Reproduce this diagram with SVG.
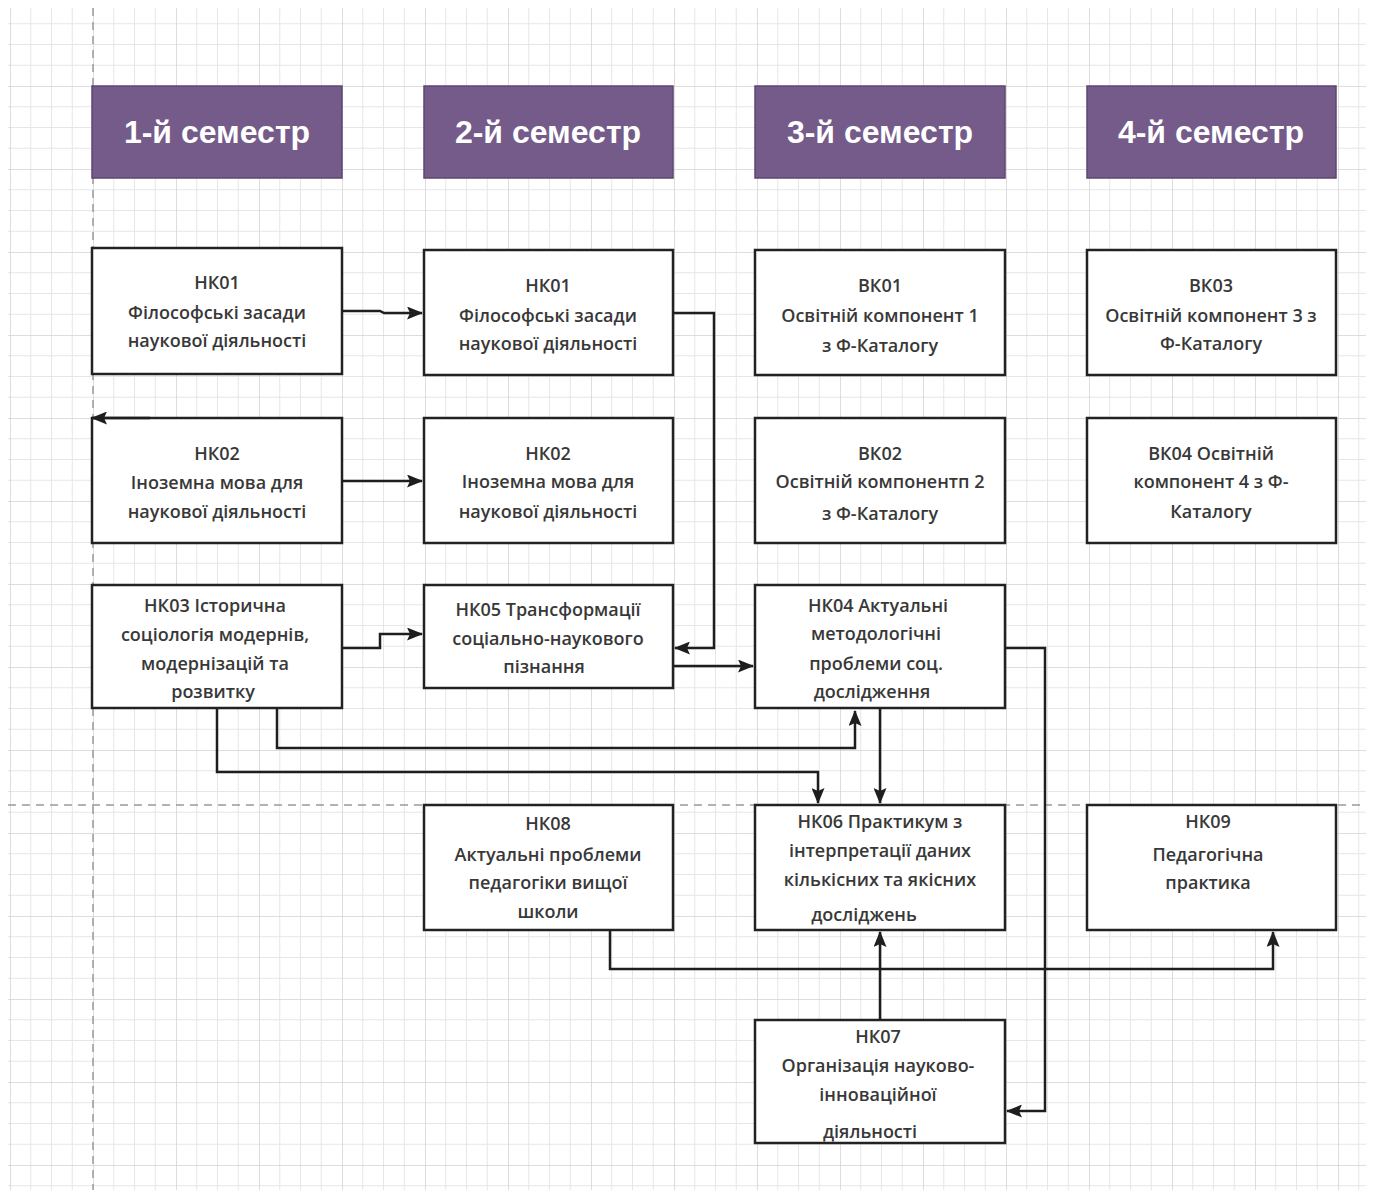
<svg xmlns="http://www.w3.org/2000/svg" width="1373" height="1197" viewBox="0 0 1373 1197">
<style>
.hdr{fill:#745b89;stroke:#5d4672;stroke-width:1.5}
.hdrt{font-family:"Liberation Sans",Arial,sans-serif;font-weight:bold;font-size:32px;fill:#ffffff;text-anchor:middle}
.box{fill:#ffffff;stroke:#222222;stroke-width:2.5}
.t{font-family:"Open Sans","DejaVu Sans",sans-serif;font-weight:600;font-size:18px;fill:#383838;text-anchor:middle}
.c{fill:none;stroke:#1e1e1e;stroke-width:2.5;marker-end:url(#ah)}
.dash{stroke:#9a9a9a;stroke-width:1.5;stroke-dasharray:8 6}
</style>
<defs>
<pattern id="grid" patternUnits="userSpaceOnUse" x="10" y="3" width="83" height="83">
<path d="M20.75 0V83M41.5 0V83M62.25 0V83M0 20.75H83M0 41.5H83M0 62.25H83" stroke="#e6e6e6" stroke-width="1" fill="none"/>
<path d="M0 0V83M0 0H83" stroke="#d2d2d2" stroke-width="1.5" fill="none"/>
</pattern>
<marker id="ah" viewBox="0 0 16 13" refX="15" refY="6.5" markerWidth="16" markerHeight="13" markerUnits="userSpaceOnUse" orient="auto">
<path d="M0 0L16 6.5L0 13L3 6.5Z" fill="#1e1e1e"/>
</marker>
</defs>
<rect width="1373" height="1197" fill="#ffffff"/>
<rect x="8" y="8" width="1358" height="1182" fill="url(#grid)"/>
<line class="dash" x1="93" y1="8" x2="93" y2="1190"/>
<line class="dash" x1="8" y1="805" x2="1366" y2="805"/>

<g id="h1"><rect class="hdr" x="92" y="86" width="250" height="92"/><text class="hdrt" x="217" y="143">1-й семестр</text></g>
<g id="h2"><rect class="hdr" x="424" y="86" width="249" height="92"/><text class="hdrt" x="548" y="143">2-й семестр</text></g>
<g id="h3"><rect class="hdr" x="755" y="86" width="250" height="92"/><text class="hdrt" x="880" y="143">3-й семестр</text></g>
<g id="h4"><rect class="hdr" x="1087" y="86" width="249" height="92"/><text class="hdrt" x="1211" y="143">4-й семестр</text></g>

<g id="nk01a"><rect class="box" x="92" y="248" width="250" height="126"/>
<text class="t" x="217" y="289">НК01</text><text class="t" x="217" y="319">Філософські засади</text><text class="t" x="217" y="347">наукової діяльності</text></g>
<g id="nk01b"><rect class="box" x="424" y="250" width="249" height="125"/>
<text class="t" x="548" y="292">НК01</text><text class="t" x="548" y="322">Філософські засади</text><text class="t" x="548" y="350">наукової діяльності</text></g>
<g id="vk01"><rect class="box" x="755" y="250" width="250" height="125"/>
<text class="t" x="880" y="292">ВК01</text><text class="t" x="880" y="322">Освітній компонент 1</text><text class="t" x="880" y="352">з Ф-Каталогу</text></g>
<g id="vk03"><rect class="box" x="1087" y="250" width="249" height="125"/>
<text class="t" x="1211" y="292">ВК03</text><text class="t" x="1211" y="322">Освітній компонент 3 з</text><text class="t" x="1211" y="350">Ф-Каталогу</text></g>

<g id="nk02a"><rect class="box" x="92" y="418" width="250" height="125"/>
<text class="t" x="217" y="460">НК02</text><text class="t" x="217" y="489">Іноземна мова для</text><text class="t" x="217" y="518">наукової діяльності</text></g>
<g id="nk02b"><rect class="box" x="424" y="418" width="249" height="125"/>
<text class="t" x="548" y="460">НК02</text><text class="t" x="548" y="488">Іноземна мова для</text><text class="t" x="548" y="518">наукової діяльності</text></g>
<g id="vk02"><rect class="box" x="755" y="418" width="250" height="125"/>
<text class="t" x="880" y="460">ВК02</text><text class="t" x="880" y="488">Освітній компонентп 2</text><text class="t" x="880" y="520">з Ф-Каталогу</text></g>
<g id="vk04"><rect class="box" x="1087" y="418" width="249" height="125"/>
<text class="t" x="1211" y="460">ВК04 Освітній</text><text class="t" x="1211" y="488">компонент 4 з Ф-</text><text class="t" x="1211" y="518">Каталогу</text></g>

<g id="nk03"><rect class="box" x="92" y="585" width="250" height="123"/>
<text class="t" x="215" y="612">НК03 Історична</text><text class="t" x="215" y="641">соціологія модернів,</text><text class="t" x="215" y="670">модернізацій та</text><text class="t" x="213" y="698">розвитку</text></g>
<g id="nk05"><rect class="box" x="424" y="585" width="249" height="103"/>
<text class="t" x="548" y="616">НК05 Трансформації</text><text class="t" x="548" y="645">соціально-наукового</text><text class="t" x="544" y="673">пізнання</text></g>
<g id="nk04"><rect class="box" x="755" y="585" width="250" height="123"/>
<text class="t" x="878" y="612">НК04 Актуальні</text><text class="t" x="876" y="640">методологічні</text><text class="t" x="876" y="670">проблеми соц.</text><text class="t" x="872" y="698">дослідження</text></g>

<g id="nk08"><rect class="box" x="424" y="805" width="249" height="125"/>
<text class="t" x="548" y="830">НК08</text><text class="t" x="548" y="861">Актуальні проблеми</text><text class="t" x="548" y="889">педагогіки вищої</text><text class="t" x="548" y="918">школи</text></g>
<g id="nk06"><rect class="box" x="755" y="805" width="250" height="125"/>
<text class="t" x="880" y="828">НК06 Практикум з</text><text class="t" x="880" y="857">інтерпретації даних</text><text class="t" x="880" y="886">кількісних та якісних</text><text class="t" x="864" y="921">досліджень</text></g>
<g id="nk09"><rect class="box" x="1087" y="805" width="249" height="125"/>
<text class="t" x="1208" y="828">НК09</text><text class="t" x="1208" y="861">Педагогічна</text><text class="t" x="1208" y="889">практика</text></g>

<g id="nk07"><rect class="box" x="755" y="1020" width="250" height="123"/>
<text class="t" x="878" y="1043">НК07</text><text class="t" x="878" y="1072">Організація науково-</text><text class="t" x="878" y="1101">інноваційної</text><text class="t" x="870" y="1138">діяльності</text></g>

<g id="connectors">
<path class="c" d="M342 311H380L384 313H422"/>
<path class="c" d="M150 418H92"/>
<path class="c" d="M342 481H422"/>
<path class="c" d="M673 313H714V648H675"/>
<path class="c" d="M673 666H753"/>
<path class="c" d="M342 648H380V634H422"/>
<path class="c" d="M277 709V748H855V711"/>
<path class="c" d="M217 709V772H818V803"/>
<path class="c" d="M880 709V803"/>
<path class="c" d="M1005 648H1045V1111H1007"/>
<path class="c" d="M610 931V969H1273V932"/>
<path class="c" d="M880 1019V932"/>
</g>
</svg>
